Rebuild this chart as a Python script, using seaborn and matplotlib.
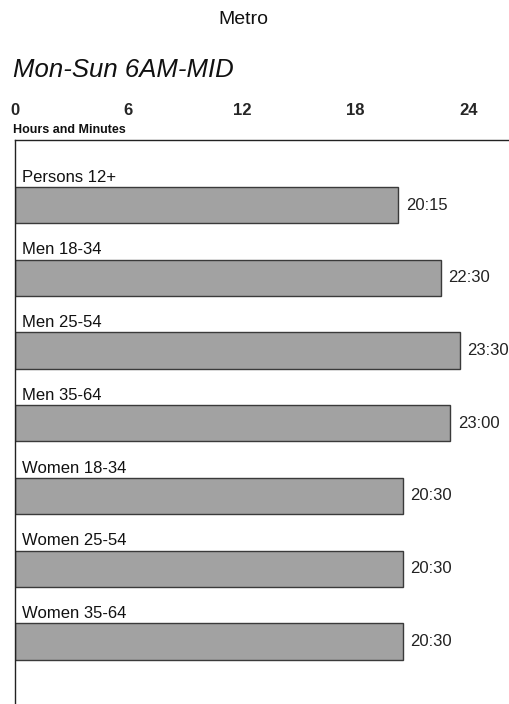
import matplotlib
matplotlib.use('Agg')
import matplotlib.pyplot as plt
import pandas as pd
import seaborn as sns

sns.set_theme(style='white')
plt.rcParams['font.family'] = ['Liberation Sans', 'DejaVu Sans']

demos = ['Persons 12+', 'Men 18-34', 'Men 25-54', 'Men 35-64',
         'Women 18-34', 'Women 25-54', 'Women 35-64']
times = ['20:15', '22:30', '23:30', '23:00', '20:30', '20:30', '20:30']
xticks = [0, 6, 12, 18, 24]


def to_hours(s):
    h, m = s.split(':')
    return int(h) + int(m) / 60


data = pd.DataFrame({'demo': demos, 'hours': [to_hours(t) for t in times]})

fig = plt.figure(figsize=(5.1, 7.04), dpi=100)
ax = fig.add_axes([15 / 510, 0, 495 / 510, 1 - 140 / 704])

sns.barplot(data=data, x='hours', y='demo', orient='h', ax=ax,
            color='#a2a2a2', saturation=1, width=0.5,
            edgecolor='#3a3a3a', linewidth=1.0)

for i, row in data.iterrows():
    ax.text(0.35, i - 0.28, row['demo'], fontsize=12, color='#111111',
            ha='left', va='bottom')
    ax.text(row['hours'] + 0.4, i, times[i], fontsize=12, color='#222222',
            ha='left', va='center')

ax.set_xlim(0, 495 / 454 * 24)
ax.set_ylim(6.86, -0.894)
ax.set_yticks([])
ax.set_ylabel('')
ax.set_xlabel('')
ax.xaxis.tick_top()
ax.set_xticks(xticks)
ax.set_xticklabels([str(t) for t in xticks], fontweight='bold', fontsize=12)
ax.tick_params(axis='x', length=0, pad=16)

for side in ['right', 'bottom']:
    ax.spines[side].set_visible(False)
ax.spines['top'].set_color('#222222')
ax.spines['left'].set_color('#222222')
ax.spines['top'].set_linewidth(1.0)
ax.spines['left'].set_linewidth(1.0)

fig.text(13 / 510, 1 - 130 / 704, 'Hours and Minutes', fontsize=9,
         fontweight='bold', ha='left', va='center', color='#111111')
fig.text(13 / 510, 1 - 70 / 704, 'Mon-Sun 6AM-MID', fontsize=18.5,
         fontstyle='italic', ha='left', va='center', color='#111111')
fig.text(243 / 510, 1 - 20 / 704, 'Metro', fontsize=14,
         ha='center', va='center', color='#111111')

fig.savefig('out.png', dpi=100)
